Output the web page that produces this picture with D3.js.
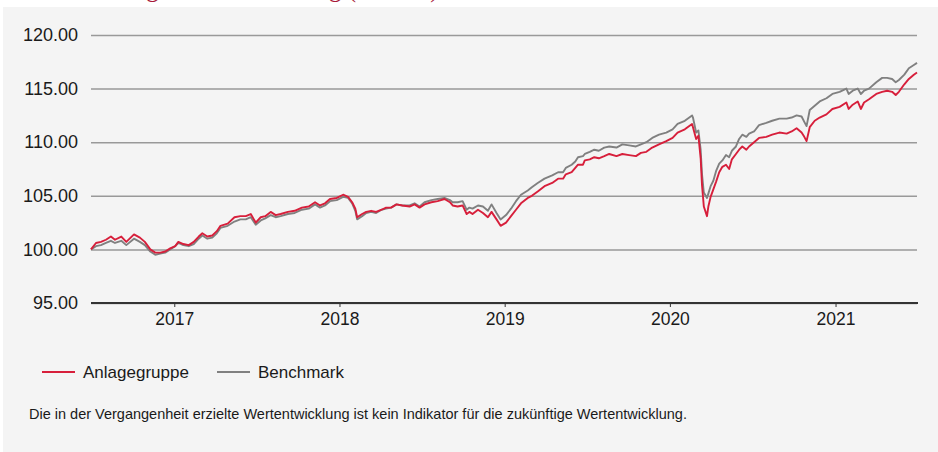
<!DOCTYPE html>
<html>
<head>
<meta charset="utf-8">
<script src="https://cdn.jsdelivr.net/npm/d3@7"></script>
<style>
  html, body { margin: 0; padding: 0; background: #ffffff; }
  svg { display: block; }
</style>
</head>
<body>
<div id="chart-area"></div>
<script>
// series values
var dates = [
  "2016-07-01", "2016-07-12", "2016-07-23", "2016-08-03", "2016-08-14", "2016-08-23",
  "2016-09-06", "2016-09-17", "2016-10-04", "2016-10-17", "2016-10-28", "2016-11-09",
  "2016-11-20", "2016-12-01", "2016-12-12", "2016-12-23", "2017-01-03", "2017-01-10",
  "2017-01-21", "2017-02-02", "2017-02-13", "2017-02-24", "2017-03-04", "2017-03-15",
  "2017-03-26", "2017-04-05", "2017-04-13", "2017-04-29", "2017-05-14", "2017-05-27",
  "2017-06-08", "2017-06-19", "2017-06-30", "2017-07-11", "2017-07-21", "2017-08-02",
  "2017-08-13", "2017-08-24", "2017-09-09", "2017-09-24", "2017-10-10", "2017-10-25",
  "2017-11-08", "2017-11-19", "2017-11-30", "2017-12-11", "2017-12-26", "2018-01-09",
  "2018-01-20", "2018-01-29", "2018-02-05", "2018-02-09", "2018-02-20", "2018-03-01",
  "2018-03-12", "2018-03-23", "2018-04-04", "2018-04-14", "2018-04-25", "2018-05-07",
  "2018-05-20", "2018-06-05", "2018-06-16", "2018-06-27", "2018-07-08", "2018-07-23",
  "2018-08-06", "2018-08-21", "2018-09-02", "2018-09-08", "2018-09-19", "2018-09-30",
  "2018-10-09", "2018-10-15", "2018-10-22", "2018-11-03", "2018-11-14", "2018-11-25",
  "2018-12-03", "2018-12-14", "2018-12-23", "2019-01-04", "2019-01-15", "2019-01-26",
  "2019-02-06", "2019-02-21", "2019-03-02", "2019-03-15", "2019-03-30", "2019-04-16",
  "2019-04-29", "2019-05-10", "2019-05-16", "2019-05-29", "2019-06-06", "2019-06-12",
  "2019-06-23", "2019-06-27", "2019-07-08", "2019-07-18", "2019-07-28", "2019-08-09",
  "2019-08-20", "2019-09-05", "2019-09-18", "2019-10-03", "2019-10-18", "2019-10-29",
  "2019-11-10", "2019-11-23", "2019-12-08", "2019-12-24", "2020-01-07", "2020-01-18",
  "2020-02-03", "2020-02-19", "2020-02-21", "2020-02-28", "2020-03-04", "2020-03-09",
  "2020-03-12", "2020-03-16", "2020-03-23", "2020-03-26", "2020-03-31", "2020-04-06",
  "2020-04-12", "2020-04-19", "2020-04-26", "2020-05-04", "2020-05-11", "2020-05-17",
  "2020-05-26", "2020-06-02", "2020-06-09", "2020-06-18", "2020-06-24", "2020-07-05",
  "2020-07-16", "2020-08-01", "2020-08-14", "2020-08-30", "2020-09-15", "2020-09-26",
  "2020-10-07", "2020-10-18", "2020-10-24", "2020-10-29", "2020-11-05", "2020-11-16",
  "2020-11-27", "2020-12-12", "2020-12-25", "2021-01-10", "2021-01-25", "2021-01-30",
  "2021-02-08", "2021-02-19", "2021-02-26", "2021-03-05", "2021-03-16", "2021-04-01",
  "2021-04-14", "2021-04-25", "2021-05-06", "2021-05-14", "2021-05-21", "2021-06-02",
  "2021-06-12", "2021-06-23", "2021-06-30"
];

var anlagegruppe = [
  100.0, 100.6, 100.7, 100.9, 101.2, 100.9,
  101.2, 100.7, 101.4, 101.1, 100.7, 100.0,
  99.7, 99.7, 99.8, 100.1, 100.3, 100.7,
  100.5, 100.4, 100.7, 101.2, 101.5, 101.2,
  101.3, 101.7, 102.2, 102.4, 103.0, 103.1,
  103.1, 103.3, 102.5, 103.0, 103.1, 103.5,
  103.2, 103.3, 103.5, 103.6, 103.9, 104.0,
  104.4, 104.1, 104.3, 104.7, 104.8, 105.1,
  104.9, 104.4, 103.8, 103.0, 103.3, 103.5,
  103.6, 103.5, 103.7, 103.9, 103.9, 104.2,
  104.1, 104.0, 104.2, 103.9, 104.2, 104.4,
  104.5, 104.7, 104.4, 104.1, 104.0, 104.1,
  103.3, 103.5, 103.3, 103.7, 103.4, 103.0,
  103.5, 102.8, 102.2, 102.5, 103.1, 103.7,
  104.3, 104.8, 105.0, 105.4, 105.9, 106.2,
  106.6, 106.6, 107.0, 107.2, 107.6, 107.9,
  107.9, 108.3, 108.4, 108.6, 108.5, 108.7,
  108.9, 108.7, 108.9, 108.8, 108.7, 109.0,
  109.1, 109.5, 109.8, 110.1, 110.4, 110.9,
  111.2, 111.7, 111.4, 110.3, 110.6, 108.5,
  106.0, 104.0, 103.1, 104.0, 104.9, 105.6,
  106.3, 107.2, 107.7, 107.9, 107.5, 108.4,
  108.9, 109.3, 109.6, 109.3, 109.6, 110.0,
  110.4, 110.5, 110.7, 110.9, 110.8, 111.0,
  111.3, 110.9, 110.5, 110.1, 111.4, 112.0,
  112.3, 112.6, 113.1, 113.3, 113.7, 113.1,
  113.5, 113.8, 113.1, 113.7, 114.0, 114.5,
  114.7, 114.8, 114.7, 114.4, 114.7, 115.4,
  115.9, 116.3, 116.5
];

var benchmark = [
  100.0, 100.3, 100.4, 100.6, 100.8, 100.6,
  100.8, 100.4, 101.0, 100.7, 100.4, 99.8,
  99.5, 99.6, 99.7, 100.0, 100.3, 100.6,
  100.4, 100.3, 100.5, 101.0, 101.3, 101.0,
  101.1, 101.5, 102.0, 102.2, 102.6, 102.8,
  102.8, 103.0, 102.3, 102.7, 102.9, 103.2,
  103.0, 103.1, 103.3, 103.4, 103.7, 103.8,
  104.2, 103.9, 104.1, 104.5, 104.6, 104.9,
  104.8, 104.3, 103.6, 102.8, 103.1, 103.4,
  103.5, 103.4, 103.7, 103.8, 103.9, 104.2,
  104.1, 104.1, 104.3, 104.0, 104.4, 104.6,
  104.7, 104.8, 104.6, 104.4, 104.4, 104.5,
  103.7, 103.9, 103.8, 104.1, 104.0, 103.6,
  104.2, 103.4, 102.8, 103.2, 103.8, 104.5,
  105.1, 105.5, 105.8, 106.2, 106.6, 106.9,
  107.2, 107.2, 107.6, 107.9, 108.2, 108.6,
  108.7, 108.9, 109.1, 109.3, 109.2, 109.5,
  109.6, 109.5, 109.8, 109.7, 109.6, 109.8,
  110.0, 110.4, 110.7, 110.9, 111.2, 111.7,
  112.0, 112.5, 112.3, 110.9, 111.1, 109.3,
  107.0, 105.3, 104.8, 105.2, 105.9, 106.4,
  107.3, 108.0, 108.3, 108.8, 108.6, 109.2,
  109.6, 110.3, 110.7, 110.5, 110.8, 111.0,
  111.6, 111.8, 112.0, 112.2, 112.2, 112.3,
  112.5, 112.4, 111.9, 111.5, 113.0, 113.4,
  113.8, 114.1, 114.5, 114.7, 115.0, 114.5,
  114.8, 115.0, 114.5, 114.8, 115.0, 115.6,
  116.0, 116.0, 115.9, 115.6, 115.8, 116.3,
  116.9, 117.2, 117.4
];

var seriesNames = ["Anlagegruppe", "Benchmark"];
var seriesColors = ["#d71f3b", "#808080"];
var yTicks = [95, 100, 105, 110, 115, 120];
var xTickYears = ["2017", "2018", "2019", "2020", "2021"];
var chartTitle = "Tägliche Entwicklung (in CHF)";
var footnote = "Die in der Vergangenheit erzielte Wertentwicklung ist kein Indikator für die zukünftige Wertentwicklung.";

var W = 938, H = 452;
var margin = { left: 91, right: 21, top: 35, bottom: 149 };
var width = W - margin.left - margin.right;
var height = H - margin.top - margin.bottom;

var parse = d3.timeParse("%Y-%m-%d");

var svg = d3.select("#chart-area")
  .append("svg")
  .attr("width", W)
  .attr("height", H)
  .style("font-family", "'Liberation Sans', Arial, sans-serif");

// panel background
svg.append("rect")
  .attr("x", 3)
  .attr("y", 7)
  .attr("width", W - 3)
  .attr("height", H - 7)
  .attr("fill", "#f4f4f4");

// title (only its lowest part shows at the top edge)
svg.append("text")
  .attr("x", 120)
  .attr("y", -3)
  .attr("font-family", "'Liberation Serif', 'Times New Roman', serif")
  .attr("font-size", "25px")
  .attr("fill", "#a8193a")
  .text(chartTitle);

var g = svg.append("g")
  .attr("transform", "translate(" + margin.left + "," + margin.top + ")");

var x = d3.scaleTime()
  .domain([parse(dates[0]), parse(dates[dates.length - 1])])
  .range([0, width]);

var y = d3.scaleLinear()
  .domain([95, 120])
  .range([height, 0]);

// gridlines + y labels
var yAxisCall = d3.axisLeft(y)
  .tickValues(yTicks)
  .tickSize(-width)
  .tickPadding(13)
  .tickFormat(d3.format(".2f"));

var yAxisGroup = g.append("g").call(yAxisCall);
yAxisGroup.select(".domain").remove();
yAxisGroup.selectAll(".tick line")
  .attr("stroke", "#999999")
  .attr("stroke-width", 1.5);
yAxisGroup.selectAll(".tick text")
  .attr("font-size", "18px")
  .attr("fill", "#1a1a1a");

// x axis
var xAxisCall = d3.axisBottom(x)
  .tickValues(xTickYears.map(function(yr) { return parse(yr + "-01-01"); }))
  .tickSize(4)
  .tickPadding(6)
  .tickFormat(d3.timeFormat("%Y"));

var xAxisGroup = g.append("g")
  .attr("transform", "translate(0," + height + ")")
  .call(xAxisCall);
xAxisGroup.select(".domain")
  .attr("stroke", "#333333")
  .attr("stroke-width", 2)
  .attr("d", "M0,0H" + (width + 1));
xAxisGroup.selectAll(".tick line")
  .attr("stroke", "#333333")
  .attr("stroke-width", 1);
xAxisGroup.selectAll(".tick text")
  .attr("font-size", "17.5px")
  .attr("fill", "#1a1a1a");

// lines, benchmark underneath
var series = [
  { name: seriesNames[1], color: seriesColors[1], values: benchmark },
  { name: seriesNames[0], color: seriesColors[0], values: anlagegruppe }
];

var line = d3.line()
  .x(function(d, i) { return x(parse(dates[i])); })
  .y(function(d) { return y(d); });

g.selectAll(".series")
  .data(series)
  .enter()
  .append("path")
  .attr("class", "series")
  .attr("fill", "none")
  .attr("stroke", function(d) { return d.color; })
  .attr("stroke-width", 1.9)
  .attr("stroke-linejoin", "round")
  .attr("d", function(d) { return line(d.values); });

// legend
var legendX = [42, 217];
var legend = svg.selectAll(".legend")
  .data(seriesNames)
  .enter()
  .append("g")
  .attr("class", "legend")
  .attr("transform", function(d, i) {
    return "translate(" + legendX[i] + ",372)";
  });

legend.append("line")
  .attr("x1", 0)
  .attr("x2", 33)
  .attr("stroke", function(d, i) { return seriesColors[i]; })
  .attr("stroke-width", 2);

legend.append("text")
  .attr("x", 41)
  .attr("y", 6)
  .attr("font-size", "17px")
  .attr("fill", "#1a1a1a")
  .text(function(d) { return d; });

// footnote
svg.append("text")
  .attr("x", 29)
  .attr("y", 419)
  .attr("font-size", "14.5px")
  .attr("fill", "#1a1a1a")
  .text(footnote);
</script>
</body>
</html>
